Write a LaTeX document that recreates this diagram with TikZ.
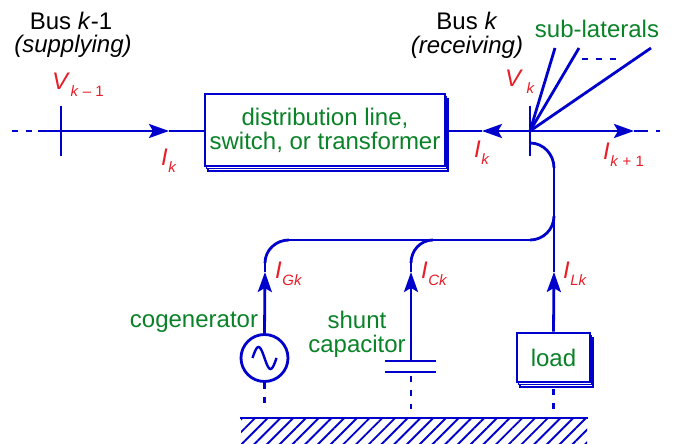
\documentclass[tikz,border=0pt]{standalone}
\usepackage{fontspec}
\setmainfont{Liberation Sans}
\usetikzlibrary{arrows.meta,patterns.meta,shadows}
\definecolor{wireblue}{RGB}{0,0,205}
\definecolor{namegreen}{RGB}{10,130,40}
\definecolor{qtyred}{RGB}{230,30,40}
\newcommand{\qty}[2]{\textit{#1}\hspace{0.5pt}\raisebox{-7pt}{\fontsize{15}{15}\selectfont #2}}
\tikzset{
    wire/.style={draw=wireblue, line width=2.8pt},
    tipwire/.style={wire, -{Stealth[length=20pt, width=14pt, inset=4pt]}},
    dashwire/.style={wire, dash pattern=on 6pt off 8pt},
    device/.style={wire, fill=white, text=namegreen, inner sep=0pt, align=center,
                   double copy shadow={shadow xshift=1.4pt, shadow yshift=-2.6pt, draw=wireblue, fill=white, line width=1.8pt}},
    busname/.style={text=black, font=\fontsize{24}{24}\selectfont, align=center},
    devname/.style={text=namegreen, font=\fontsize{24}{24}\selectfont, align=center},
    qtylabel/.style={text=qtyred, font=\fontsize{24}{24}\selectfont, inner sep=0pt}
}
\begin{document}
\begin{tikzpicture}[x=1pt, y=1pt]
\useasboundingbox (0,0) rectangle (688,444);

% buses
\coordinate (leftbus) at (61,313);
\coordinate (rightbus) at (530,313);
\draw[wire] (61,338) -- (61,288);
\draw[wire] (530,338) -- (530,288);

% series element
\node[device, minimum width=240pt, minimum height=72pt, font=\fontsize{24}{24}\selectfont] (line) at (325,314)
    {distribution line,\\switch, or transformer};

% main feeder
\coordinate (leftend) at (38,313);
\coordinate (leftstop) at (12,313);
\coordinate (leftarrow) at (169,313);
\coordinate (midarrow) at (482,313);
\coordinate (rightarrow) at (634,313);
\coordinate (rightend) at (642,313);
\coordinate (rightstop) at (660,313);
\draw[dashwire] (leftstop) -- (leftend);
\draw[tipwire] (leftend) -- (leftarrow);
\draw[wire] (leftarrow) -- (line.west |- leftarrow);
\draw[tipwire] (rightbus) -- (midarrow);
\draw[wire] (midarrow) -- (line.east |- midarrow);
\draw[tipwire] (rightbus) -- (rightarrow);
\draw[wire] (rightarrow) -- (rightend);
\draw[dashwire] (rightend) -- (rightstop);

% sub-laterals
\coordinate (latone) at (555,396);
\coordinate (lattwo) at (579,396);
\coordinate (latthree) at (651,396);
\coordinate (latdots) at (582,385);
\coordinate (latdotsend) at (622,385);
\draw[wire] (rightbus) -- (latone);
\draw[wire] (rightbus) -- (lattwo);
\draw[wire] (rightbus) -- (latthree);
\draw[dashwire] (latdots) -- (latdotsend);

% shunt devices
\node[circle, wire, minimum size=47pt, inner sep=0pt] (gen) at (264.5,86) {};
\draw[draw=wireblue, line width=2.4pt, shift={(gen.center)}]
    plot[domain=-12:12, smooth, samples=25] (\x,{-11*sin(\x*15)});
\node[device, minimum width=73pt, minimum height=49pt, font=\fontsize{24}{24}\selectfont] (load) at (553.5,86.5) {load};
\coordinate (capplate) at (411,83);
\coordinate (capback) at (411,72);
\draw[wire] (385,83) -- (436,83);
\draw[wire] (385,72) -- (436,72);

% ground
\node[minimum width=346pt, minimum height=25pt, inner sep=0pt,
      pattern={Lines[angle=45, distance=9pt, line width=1.9pt]}, pattern color=wireblue] (ground) at (414,12.5) {};
\draw[wire] (ground.north west) -- (ground.north east);
\draw[dashwire, shorten >=9pt] (gen.south) -- (gen.south |- ground.north);
\draw[dashwire, shorten >=9pt, shorten <=4pt] (capback) -- (capback |- ground.north);
\draw[dashwire, shorten >=9pt, shorten <=6pt] (load.south) -- (load.south |- ground.north);

% bus tie and branches
\coordinate (tieleft) at (289,204);
\coordinate (tiemid) at (433,204);
\coordinate (tieright) at (530,204);
\coordinate (genbend) at (265,181);
\coordinate (capbend) at (411,181);
\coordinate (loadbend) at (554,228);
\coordinate (loadtop) at (554,276);
\coordinate (busdrop) at (530,301);
\coordinate (gentip) at (265,172);
\coordinate (captip) at (411,172);
\coordinate (loadtip) at (554,172);
\draw[wire] (busdrop) to[out=0, in=90] (loadtop);
\draw[wire] (loadtop) -- (loadtip);
\draw[wire] (tieright) to[out=0, in=-90] (loadbend);
\draw[wire] (tieleft) -- (tieright);
\draw[wire] (genbend) to[out=90, in=180] (tieleft);
\draw[wire] (capbend) to[out=90, in=180] (tiemid);
\draw[wire] (gentip) -- (genbend);
\draw[wire] (captip) -- (capbend);
\draw[tipwire] (gen.north) -- (gentip);
\draw[tipwire] (capplate) -- (captip);
\draw[tipwire] (load.north) -- (loadtip);

% texts
\node[busname] (busone) at (71,423) {Bus \textit{k}-1};
\node[busname] (busonerole) at (73,398) {\textit{(supplying)}};
\node[busname] (bustwo) at (467,423) {Bus \textit{k}};
\node[busname] (bustworole) at (467,397) {\textit{(receiving)}};
\node[devname] (latname) at (597,415) {sub-laterals};
\node[devname] (genname) at (194,122) {cogenerator};
\node[devname] (capname) at (357,110) {shunt\\capacitor};
\node[qtylabel, anchor=west] (vone) at (52,359) {\qty{V}{\textit{k} -- 1}};
\node[qtylabel, anchor=west] (vtwo) at (505,362) {\qty{V}{\hspace{3pt}\textit{k}}};
\node[qtylabel, anchor=west] (ione) at (161,283) {\qty{I}{\textit{k}}};
\node[qtylabel, anchor=west] (itwo) at (474,291) {\qty{I}{\textit{k}}};
\node[qtylabel, anchor=west] (ithree) at (603,289) {\qty{I}{\textit{k} + 1}};
\node[qtylabel, anchor=west] (igen) at (275,170) {\qty{I}{\textit{Gk}}};
\node[qtylabel, anchor=west] (icap) at (421,170) {\qty{I}{\textit{Ck}}};
\node[qtylabel, anchor=west] (iload) at (563,170) {\qty{I}{\textit{Lk}}};
\end{tikzpicture}
\end{document}
